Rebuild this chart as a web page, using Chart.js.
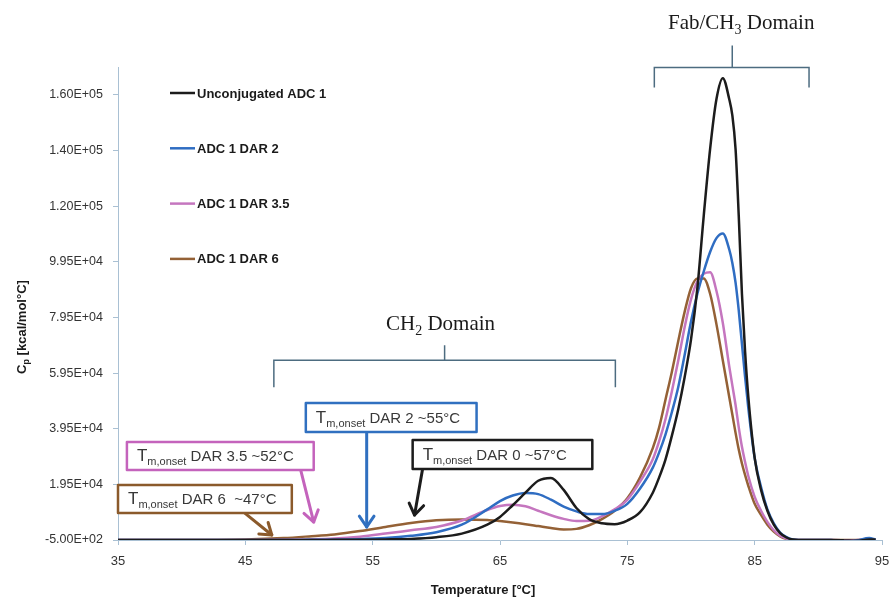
<!DOCTYPE html>
<html>
<head>
<meta charset="utf-8">
<title>DSC thermograms</title>
<script src="https://cdn.jsdelivr.net/npm/chart.js@4.4.1/dist/chart.umd.min.js"></script>
<style>
  html, body { margin: 0; padding: 0; background: #fff; }
</style>
</head>
<body>
<canvas id="dscChart" width="892" height="602"></canvas>
<script>
// temperature grid (°C) shared by all four thermograms
const temperatures = [35, 40, 45, 48, 50, 52, 54, 56, 58, 60, 62, 64, 65, 66, 67, 68, 69, 70, 71, 72,
  73, 74, 75, 76, 77, 77.5, 78, 78.5, 79, 79.5, 80, 80.5, 81, 81.5, 82, 82.5, 83, 83.25, 83.5, 83.75,
  84, 84.25, 84.5, 85, 85.5, 86, 86.5, 87, 87.5, 88, 89, 90, 91, 92, 93, 94, 94.5];

// Cp values (kcal/mol°C)
const cpUnconjugated = [-500, -500, -500, -500, -500, -450, -400, -300, -100, 500, 1800, 5000, 7800, 12000, 16500, 20800, 21800, 17500, 11000, 7000,
  5500, 5200, 6500, 9500, 16500, 22000, 28500, 37000, 46500, 58000, 71500, 90000, 116000, 140000, 158000, 165500, 158000, 152000, 140000, 116000,
  88000, 67000, 51000, 29000, 17500, 10000, 5000, 2000, 400, -300, -500, -500, -500, -600, -800, -300, -400];
const cpDar2 = [-500, -500, -500, -500, -450, -400, -200, 200, 1000, 2300, 5000, 10500, 13500, 15500, 16400, 16000, 14000, 11500, 9800, 8800,
  8800, 10000, 12500, 18000, 25500, 31000, 37500, 45500, 54500, 66000, 78000, 88000, 96000, 103000, 108000, 109700, 104000, 99000, 92000, 82000,
  70000, 58000, 47000, 29000, 18500, 10500, 5500, 2200, 500, -300, -500, -500, -500, -1200, -700, 200, -300];
const cpDar35 = [-500, -500, -500, -450, -300, 0, 700, 1800, 3000, 4200, 6500, 10300, 11700, 12200, 11600, 10000, 8400, 7100, 6300, 6400,
  8000, 10500, 14000, 20500, 28500, 35000, 43000, 53000, 64000, 76000, 86000, 92500, 95200, 95700, 89000, 77500, 62000, 55000, 48000, 40000,
  33000, 27500, 22500, 15000, 10000, 6000, 3000, 1000, 0, -400, -500, -500, -500, -600, -500, -300, -400];
const cpDar6 = [-500, -500, -300, 200, 800, 1500, 2700, 4200, 5600, 6600, 6900, 6700, 6300, 5800, 5200, 4500, 3800, 3300, 3500, 4800,
  7000, 10000, 14500, 22000, 32500, 40000, 50000, 60000, 71000, 81500, 90000, 93500, 93500, 88000, 77000, 64000, 51000, 44500, 38000, 32000,
  27000, 22800, 19000, 12500, 8500, 5000, 2500, 800, -100, -400, -500, -500, -500, -500, -500, -400, -400];

const seriesNames = ['Unconjugated ADC 1', 'ADC 1 DAR 2', 'ADC 1 DAR 3.5', 'ADC 1 DAR 6'];
const yTickValues = [-500, 19500, 39500, 59500, 79500, 99500, 119500, 139500, 159500];
const yTickLabels = ['-5.00E+02', '1.95E+04', '3.95E+04', '5.95E+04', '7.95E+04', '9.95E+04', '1.20E+05', '1.40E+05', '1.60E+05'];

const lineColors = ['#1c1c1c', '#2f6dc2', '#c576bf', '#946136'];
const axisColor = '#a9c0d3';
const bracketColor = '#4d6c80';

// onset call-outs, in data units: box [t1, cp1, t2, cp2], arrow [from t, cp, to t, cp]
const onsetNotes = [
  { text: ' DAR 2 ~55°C', color: '#3070c0', box: [49.75, 48700, 63.16, 38280], arrow: [54.53, 38280, 54.53, 4200] },
  { text: ' DAR 3.5 ~52°C', color: '#c463bc', box: [35.7, 34690, 50.37, 24630], arrow: [49.35, 24630, 50.37, 5960] },
  { text: ' DAR 6  ~47°C', color: '#8b5a2b', box: [35.0, 19250, 48.65, 9190], arrow: [44.96, 9190, 47.08, 1300] },
  { text: ' DAR 0 ~57°C', color: '#1c1c1c', box: [58.14, 35410, 72.25, 24990], arrow: [58.92, 24990, 58.29, 8480] }
];

const domainBrackets = [
  { main: 'CH', sub: '2', rest: ' Domain', from: 47.24, to: 74.06, mid: 60.65, level: 64130, foot: 54440, stem: 69520, textT: 60.33, textCp: 74900 },
  { main: 'Fab/CH', sub: '3', rest: ' Domain', from: 77.12, to: 89.27, mid: 83.24, level: 169340, foot: 162160, stem: 177240, textT: 83.94, textCp: 182990 }
];

function drawParts(ctx, parts, x, y) {
  let cx = x;
  parts.forEach(([t, font, dy]) => {
    ctx.font = font;
    ctx.fillText(t, cx, y + dy);
    cx += ctx.measureText(t).width;
  });
}

function partsWidth(ctx, parts) {
  let w = 0;
  parts.forEach(([t, font]) => { ctx.font = font; w += ctx.measureText(t).width; });
  return w;
}

function drawArrow(ctx, x1, y1, x2, y2, color) {
  const ang = Math.atan2(y2 - y1, x2 - x1);
  const h = 13;
  ctx.strokeStyle = color;
  ctx.lineWidth = 3;
  ctx.lineCap = 'round';
  ctx.lineJoin = 'round';
  ctx.beginPath();
  ctx.moveTo(x1, y1);
  ctx.lineTo(x2, y2);
  ctx.stroke();
  ctx.beginPath();
  ctx.moveTo(x2 - h * Math.cos(ang - 0.6), y2 - h * Math.sin(ang - 0.6));
  ctx.lineTo(x2, y2);
  ctx.lineTo(x2 - h * Math.cos(ang + 0.6), y2 - h * Math.sin(ang + 0.6));
  ctx.stroke();
}

const extrasPlugin = {
  id: 'extras',
  afterDraw(chart) {
    const { ctx, chartArea } = chart;
    const xs = chart.scales.x;
    const ys = chart.scales.y;
    const px = t => xs.getPixelForValue(t);
    const py = v => ys.getPixelForValue(v);
    ctx.save();

    // legend, inside the plot at the top left
    chart.data.datasets.forEach((ds, i) => {
      const ly = chartArea.top + 26 + i * 55.3;
      ctx.strokeStyle = ds.borderColor;
      ctx.lineWidth = 2.5;
      ctx.beginPath();
      ctx.moveTo(chartArea.left + 52, ly);
      ctx.lineTo(chartArea.left + 77, ly);
      ctx.stroke();
      ctx.fillStyle = '#1a1a1a';
      ctx.font = 'bold 13px "Liberation Sans", Arial, sans-serif';
      ctx.textBaseline = 'middle';
      ctx.textAlign = 'left';
      ctx.fillText(ds.label, chartArea.left + 79, ly + 1);
    });

    // domain brackets
    ctx.textBaseline = 'alphabetic';
    domainBrackets.forEach(b => {
      ctx.strokeStyle = bracketColor;
      ctx.lineWidth = 1.5;
      ctx.beginPath();
      ctx.moveTo(px(b.from), py(b.foot));
      ctx.lineTo(px(b.from), py(b.level));
      ctx.lineTo(px(b.to), py(b.level));
      ctx.lineTo(px(b.to), py(b.foot));
      ctx.moveTo(px(b.mid), py(b.level));
      ctx.lineTo(px(b.mid), py(b.stem));
      ctx.stroke();
      const parts = [
        [b.main, '21px "Liberation Serif", "Times New Roman", serif', 0],
        [b.sub, '14px "Liberation Serif", "Times New Roman", serif', 5],
        [b.rest, '21px "Liberation Serif", "Times New Roman", serif', 0]
      ];
      const w = partsWidth(ctx, parts);
      ctx.fillStyle = '#1a1a1a';
      drawParts(ctx, parts, px(b.textT) - w / 2, py(b.textCp));
    });

    // onset call-out boxes and arrows
    onsetNotes.forEach(n => {
      const [t1, c1, t2, c2] = n.box;
      const bx = px(t1), by = py(c1), bw = px(t2) - bx, bh = py(c2) - by;
      const [a1, ac1, a2, ac2] = n.arrow;
      drawArrow(ctx, px(a1), py(ac1), px(a2), py(ac2), n.color);
      ctx.fillStyle = '#fff';
      ctx.fillRect(bx, by, bw, bh);
      ctx.strokeStyle = n.color;
      ctx.lineWidth = 2.5;
      ctx.strokeRect(bx, by, bw, bh);
      ctx.fillStyle = '#383838';
      const base = by + bh / 2 + 5;
      drawParts(ctx, [
        ['T', '17px "Liberation Sans", Arial, sans-serif', 0],
        ['m,onset', '11px "Liberation Sans", Arial, sans-serif', 4],
        [n.text, '15px "Liberation Sans", Arial, sans-serif', 0]
      ], bx + 10, base);
    });

    // axis titles
    ctx.fillStyle = '#1a1a1a';
    ctx.font = 'bold 13px "Liberation Sans", Arial, sans-serif';
    ctx.textAlign = 'center';
    ctx.fillText('Temperature [°C]', 483, 594);

    ctx.translate(22, 327);
    ctx.rotate(-Math.PI / 2);
    ctx.textAlign = 'left';
    const yParts = [
      ['C', 'bold 13px "Liberation Sans", Arial, sans-serif', 0],
      ['p', 'bold 9px "Liberation Sans", Arial, sans-serif', 3],
      [' [kcal/mol°C]', 'bold 13px "Liberation Sans", Arial, sans-serif', 0]
    ];
    drawParts(ctx, yParts, -partsWidth(ctx, yParts) / 2, 4);
    ctx.restore();
  }
};

const seriesValues = [cpUnconjugated, cpDar2, cpDar35, cpDar6];

new Chart(document.getElementById('dscChart'), {
  type: 'line',
  data: {
    datasets: seriesValues.map((vals, i) => ({
      label: seriesNames[i],
      data: temperatures.map((t, j) => ({ x: t, y: vals[j] })),
      borderColor: lineColors[i],
      borderWidth: 2.5,
      pointRadius: 0,
      fill: false,
      cubicInterpolationMode: 'monotone'
    }))
  },
  options: {
    responsive: false,
    animation: false,
    layout: { padding: { top: 67, right: 10, bottom: 0, left: 0 } },
    plugins: {
      legend: { display: false },
      tooltip: { enabled: false }
    },
    scales: {
      x: {
        type: 'linear',
        min: 35,
        max: 95,
        afterFit: scale => {
          scale.height = 62;
          scale.paddingLeft = 0;
          scale.paddingRight = 0;
        },
        ticks: {
          stepSize: 10,
          color: '#333',
          padding: 9,
          font: { family: '"Liberation Sans Narrow", "Liberation Sans", Arial, sans-serif', size: 13 }
        },
        grid: { drawOnChartArea: false, color: axisColor, tickLength: 5 },
        border: { color: axisColor }
      },
      y: {
        type: 'linear',
        min: -500,
        max: 169500,
        afterFit: scale => { scale.width = 118; },
        afterBuildTicks: axis => { axis.ticks = yTickValues.map(v => ({ value: v })); },
        ticks: {
          color: '#333',
          padding: 10,
          font: { family: '"Liberation Sans", Arial, sans-serif', size: 12.5 },
          callback: v => yTickLabels[yTickValues.indexOf(v)] ?? ''
        },
        grid: { drawOnChartArea: false, color: axisColor, tickLength: 5 },
        border: { color: axisColor }
      }
    }
  },
  plugins: [extrasPlugin]
});
</script>
</body>
</html>
